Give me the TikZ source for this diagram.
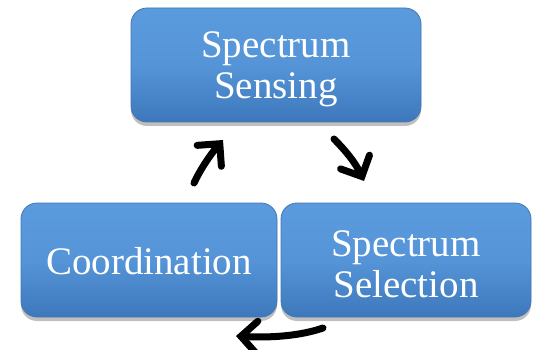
\documentclass[tikz,border=0pt]{standalone}
\usepackage{fontspec}
\setmainfont{Liberation Serif}
\usetikzlibrary{arrows.meta,shadows}
\definecolor{boxtop}{RGB}{90,155,222}
\definecolor{boxbot}{RGB}{62,120,188}
\definecolor{boxedge}{RGB}{68,118,178}
\tikzset{
  stagebox/.style={rounded corners=16pt, draw=boxedge, line width=0.8pt,
    top color=boxtop, bottom color=boxbot, middle color=boxtop!80!boxbot,
    inner sep=0pt,
    drop shadow={shadow xshift=0pt, shadow yshift=-4pt, opacity=0.25, fill=black}},
  stagetext/.style={text=white, align=center, inner sep=0pt,
    font=\fontsize{39}{41}\selectfont},
  cyclearrow/.style={line width=7pt, line cap=round, black,
    -{Straight Barb[length=16pt, width=32pt, line cap=round]}}
}
\begin{document}
\begin{tikzpicture}[x=1pt, y=-1pt]
\useasboundingbox (0,0) rectangle (533,350);
\node[stagebox, minimum width=290pt, minimum height=114pt] (sense) at (276,65) {};
\node[stagebox, minimum width=256pt, minimum height=114pt] (coord) at (149,260) {};
\node[stagebox, minimum width=250pt, minimum height=114pt] (select) at (406,260) {};
\node[stagetext] (senseT) at ([yshift=-4pt]sense.center) {Spectrum\\Sensing};
\node[stagetext] (coordT) at ([yshift=-1pt]coord.center) {Coordination};
\node[stagetext] (selectT) at ([yshift=-4pt]select.center) {Spectrum\\Selection};
% free ends of the cycle arrows
\coordinate (a1s) at (194,183);
\coordinate (a1e) at (223,140);
\coordinate (a2s) at (334,139);
\coordinate (a2e) at (364,181);
\coordinate (a3s) at (323,328);
\coordinate (a3e) at (236,336);
\draw[cyclearrow] (a1s) .. controls (200,170) and (210,155) .. (a1e);
\draw[cyclearrow] (a2s) .. controls (345,150) and (355,162) .. (a2e);
\draw[cyclearrow] (a3s) .. controls (300,336) and (270,338) .. (a3e);
\end{tikzpicture}
\end{document}
